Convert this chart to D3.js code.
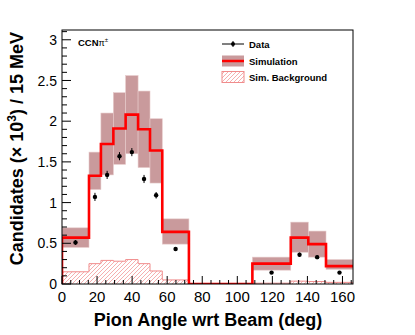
<!DOCTYPE html>
<html><head><meta charset="utf-8">
<script src="https://cdn.jsdelivr.net/npm/d3@7"></script>
<style>body{margin:0;background:#fff}svg{display:block}text{font-family:"Liberation Sans",Arial,Helvetica,sans-serif}</style>
</head><body><svg id="c" width="415" height="335"></svg>
<script>
// bin edges (deg)
const binEdges = [0, 15.4, 22.2, 29.3, 36.3, 43.4, 50.2, 57.2, 72.4, 108.6, 130.5, 140.5, 150.6, 166];
// simulation central values (x10^3)
const simValues = [0.57, 1.33, 1.72, 1.91, 2.08, 1.90, 1.64, 0.64, 0, 0.25, 0.57, 0.49, 0.22];
const simUpper  = [0.69, 1.62, 2.10, 2.35, 2.56, 2.37, 2.03, 0.80, 0, 0.33, 0.76, 0.65, 0.30];
const simLower  = [0.45, 1.16, 1.34, 1.47, 1.60, 1.43, 1.24, 0.49, 0, 0.17, 0.39, 0.33, 0.18];
// simulated background
const bkgValues = [0.15, 0.25, 0.29, 0.28, 0.30, 0.25, 0.16, 0.05, 0, 0.01, 0.035, 0.03, 0.02];
// data
const dataValues = [0.51, 1.07, 1.34, 1.57, 1.62, 1.29, 1.09, 0.43, null, 0.14, 0.36, 0.33, 0.14];
const dataErrors = [0.03, 0.05, 0.05, 0.05, 0.05, 0.05, 0.04, 0.02, null, 0.015, 0.025, 0.025, 0.015];
const xTicks = [0, 20, 40, 60, 80, 100, 120, 140, 160];
const yTicks = [0, 0.5, 1, 1.5, 2, 2.5, 3];
const legendLabels = ["Data", "Simulation", "Sim. Background"];

const L = 62, R = 353, T = 30, B = 284;
const x = d3.scaleLinear().domain([0, 166]).range([L, R]);
const y = d3.scaleLinear().domain([0, 3.12]).range([B, T]);
const svg = d3.select("#c");

const bandColor = "#c99a9c", red = "#ff0000", hatchColor = "#f08c8c";

const defs = svg.append("defs");
const pat = defs.append("pattern").attr("id", "hatch").attr("patternUnits", "userSpaceOnUse")
  .attr("width", 4).attr("height", 4);
pat.append("path").attr("d", "M-1,1 l2,-2 M0,4 l4,-4 M3,5 l2,-2")
  .attr("stroke", hatchColor).attr("stroke-width", 0.7);
defs.append("clipPath").attr("id", "clip").append("rect")
  .attr("x", L).attr("y", T).attr("width", R - L).attr("height", B - T);

const bins = simValues.map((v, i) => ({i, x0: binEdges[i], x1: binEdges[i + 1]}));
const g = svg.append("g").attr("clip-path", "url(#clip)");

// band
g.selectAll("rect.band").data(bins.filter(b => simUpper[b.i] > 0)).join("rect")
  .attr("class", "band")
  .attr("x", b => x(b.x0)).attr("width", b => x(b.x1) - x(b.x0))
  .attr("y", b => y(simUpper[b.i])).attr("height", b => y(simLower[b.i]) - y(simUpper[b.i]))
  .attr("fill", bandColor).attr("stroke", "#e6caca").attr("stroke-width", 0.6);

// background hatch
function stepPts(vals) {
  const pts = [[x(binEdges[0]), y(0)]];
  vals.forEach((v, i) => { pts.push([x(binEdges[i]), y(v)]); pts.push([x(binEdges[i + 1]), y(v)]); });
  return pts;
}
const bkgPts = stepPts(bkgValues);
g.append("path").attr("d", d3.line()(bkgPts.concat([[x(binEdges[binEdges.length - 1]), y(0)]])) + "Z")
  .attr("fill", "url(#hatch)").attr("stroke", "none");
g.append("path").attr("d", d3.line()(bkgPts.concat([[x(binEdges[binEdges.length - 1]), y(0)]])))
  .attr("fill", "none").attr("stroke", hatchColor).attr("stroke-width", 1);

// simulation line
g.append("path").attr("d", d3.line()(stepPts(simValues)))
  .attr("fill", "none").attr("stroke", red).attr("stroke-width", 2.6);

// frame
svg.append("rect").attr("x", L).attr("y", T).attr("width", R - L).attr("height", B - T)
  .attr("fill", "none").attr("stroke", "#000").attr("stroke-width", 1);

// y axis ticks
const yMinor = d3.range(0, 3.11, 0.1);
svg.selectAll("line.ym").data(yMinor).join("line")
  .attr("x1", L).attr("x2", d => (Math.abs(d * 2 - Math.round(d * 2)) < 1e-6) ? L + 9 : L + 5)
  .attr("y1", d => y(d)).attr("y2", d => y(d)).attr("stroke", "#000").attr("stroke-width", 1);
svg.selectAll("text.yl").data(yTicks).join("text")
  .attr("x", L - 5).attr("y", d => y(d)).attr("dy", "0.36em").attr("text-anchor", "end")
  .attr("font-size", 14).text(d => d3.format("")(d));

// x axis ticks
const xMinor = d3.range(0, 166, 5);
svg.selectAll("line.xm").data(xMinor).join("line")
  .attr("x1", d => x(d)).attr("x2", d => x(d))
  .attr("y1", B).attr("y2", d => d % 20 === 0 ? B - 8 : B - 4)
  .attr("stroke", "#000").attr("stroke-width", 1);
svg.selectAll("text.xl").data(xTicks).join("text")
  .attr("x", d => x(d)).attr("y", 301.5).attr("text-anchor", "middle")
  .attr("font-size", 15).text(d => d);

// data points
const pts = bins.filter(b => dataValues[b.i] !== null).map(b => ({cx: (b.x0 + b.x1) / 2, v: dataValues[b.i], e: dataErrors[b.i]}));
svg.selectAll("line.err").data(pts).join("line")
  .attr("x1", d => x(d.cx)).attr("x2", d => x(d.cx))
  .attr("y1", d => y(d.v + d.e)).attr("y2", d => y(d.v - d.e))
  .attr("stroke", "#000").attr("stroke-width", 1);
svg.selectAll("circle.pt").data(pts).join("circle")
  .attr("cx", d => x(d.cx)).attr("cy", d => y(d.v)).attr("r", 2.2).attr("fill", "#000");

// titles
svg.append("text").attr("x", 208).attr("y", 326).attr("text-anchor", "middle")
  .attr("font-size", 18).attr("font-weight", "bold").text("Pion Angle wrt Beam (deg)");
const yt = svg.append("text").attr("transform", "translate(23,32) rotate(-90)")
  .attr("text-anchor", "end").attr("font-size", 18).attr("font-weight", "bold");
yt.append("tspan").text("Candidates (\u00d7 10");
yt.append("tspan").attr("dy", -7).attr("font-size", 12).text("3");
yt.append("tspan").attr("dy", 7).text(") / 15 MeV");

// label
const lab = svg.append("text").attr("x", 78).attr("y", 45.5).attr("font-size", 9.5).attr("font-weight", "bold");
lab.append("tspan").text("CCN");
lab.append("tspan").attr("font-weight", "normal").attr("font-size", 9).text("\u03c0");
lab.append("tspan").attr("font-weight", "normal").attr("font-size", 6).attr("dy", -4).text("\u00b1");

// legend
const lx0 = 222, lx1 = 244, tx = 249;
svg.append("line").attr("x1", lx0).attr("x2", lx1).attr("y1", 44).attr("y2", 44).attr("stroke", "#000").attr("stroke-width", 1);
svg.append("line").attr("x1", 233).attr("x2", 233).attr("y1", 41).attr("y2", 47).attr("stroke", "#000").attr("stroke-width", 1);
svg.append("circle").attr("cx", 233).attr("cy", 44).attr("r", 2).attr("fill", "#000");
svg.append("rect").attr("x", lx0).attr("y", 55.5).attr("width", lx1 - lx0).attr("height", 11).attr("fill", bandColor);
svg.append("line").attr("x1", lx0).attr("x2", lx1).attr("y1", 61).attr("y2", 61).attr("stroke", red).attr("stroke-width", 2.5);
svg.append("rect").attr("x", lx0).attr("y", 71.5).attr("width", lx1 - lx0).attr("height", 11)
  .attr("fill", "url(#hatch)").attr("stroke", hatchColor).attr("stroke-width", 1);
svg.selectAll("text.leg").data(legendLabels).join("text")
  .attr("x", tx).attr("y", (d, i) => [47.5, 64.5, 80.5][i])
  .attr("font-size", 9.5).attr("font-weight", "bold").text(d => d);
</script></body></html>
